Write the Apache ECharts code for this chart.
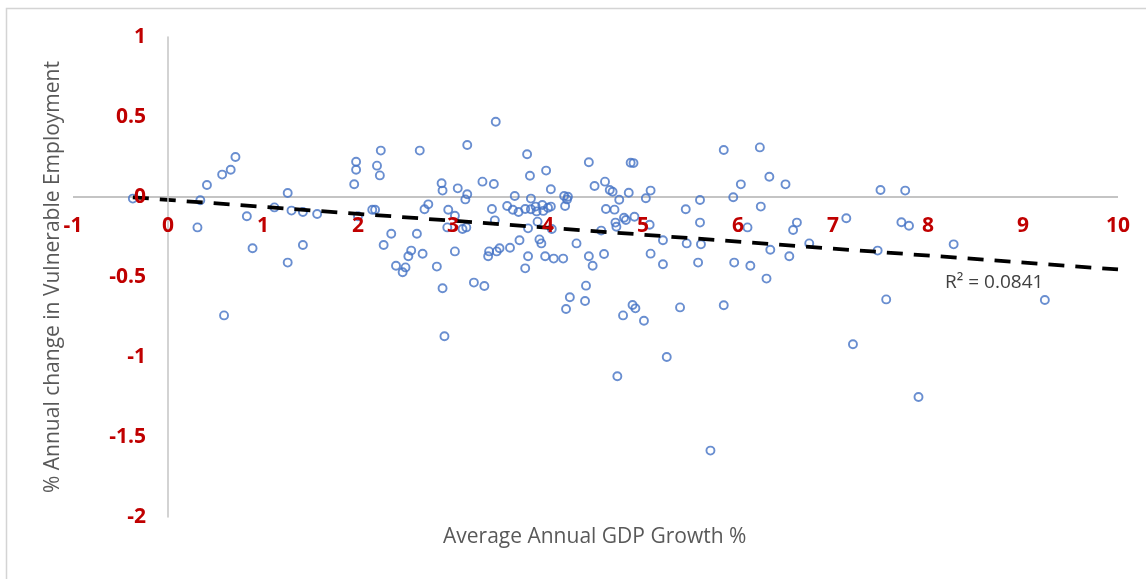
<!DOCTYPE html>
<html>
<head>
<meta charset="utf-8">
<script src="https://cdn.jsdelivr.net/npm/echarts@6/dist/echarts.min.js"></script>
<style>
  html, body { margin: 0; padding: 0; background: #fff; }
  #chart { width: 1146px; height: 579px; }
</style>
</head>
<body>
<div id="chart"></div>
<script>
// [gdp growth %, change in vulnerable employment %]
const points = [
  [-0.37, -0.01], [0.31, -0.19], [0.34, -0.02], [0.41, 0.075], [0.57, 0.14], [0.66, 0.17],
  [0.71, 0.25], [0.59, -0.74], [0.83, -0.12], [0.89, -0.32], [1.12, -0.065], [1.26, 0.025],
  [1.30, -0.085], [1.26, -0.41], [1.42, -0.094], [1.42, -0.30], [1.57, -0.106], [1.96, 0.08],
  [1.98, 0.22], [1.98, 0.17],
  [2.0, -0.12], [2.15, -0.08], [2.18, -0.08], [2.24, 0.29], [2.20, 0.196], [2.23, 0.135],
  [2.35, -0.23], [2.27, -0.30], [2.40, -0.43], [2.47, -0.47], [2.50, -0.44], [2.53, -0.37],
  [2.56, -0.335], [2.62, -0.23], [2.65, 0.29], [2.68, -0.355], [2.70, -0.077], [2.74, -0.046],
  [2.83, -0.435], [2.89, -0.57], [2.91, -0.87], [2.88, 0.086], [2.89, 0.04], [2.95, -0.08],
  [3.02, -0.117], [2.94, -0.19], [3.10, -0.2], [3.14, -0.19], [3.02, -0.34], [3.05, 0.054],
  [3.15, 0.325], [3.15, 0.017], [3.13, -0.015], [3.22, -0.535], [3.33, -0.556], [3.31, 0.096],
  [3.43, 0.081], [3.45, 0.47], [3.41, -0.075], [3.44, -0.146], [3.38, -0.34], [3.37, -0.37],
  [3.46, -0.34], [3.49, -0.32], [3.60, -0.317], [3.57, -0.056], [3.65, 0.006], [3.63, -0.08],
  [3.69, -0.094], [3.70, -0.27], [3.76, -0.075], [3.82, -0.077], [3.78, 0.267], [3.81, 0.133],
  [3.82, -0.01], [3.79, -0.196], [3.79, -0.37], [3.76, -0.446], [3.89, -0.154],
  [3.87, -0.06], [3.88, -0.09], [3.94, -0.05], [3.95, -0.087], [4.0, -0.067], [4.03, -0.06],
  [3.98, 0.165], [4.03, 0.048], [4.04, -0.2], [3.91, -0.265], [3.93, -0.29], [3.97, -0.37],
  [4.06, -0.385], [4.16, -0.385], [4.17, 0.006], [4.2, -0.015], [4.21, 0.002], [4.18, -0.056],
  [4.30, -0.29], [4.23, -0.627], [4.19, -0.70], [4.39, -0.65], [4.40, -0.554], [4.43, -0.37],
  [4.47, -0.43], [4.43, 0.217], [4.49, 0.069], [4.60, 0.096], [4.56, -0.21], [4.59, -0.356],
  [4.61, -0.075], [4.70, -0.079], [4.65, 0.044], [4.68, 0.033], [4.75, -0.017], [4.71, -0.16],
  [4.72, -0.186], [4.80, -0.13], [4.82, -0.144], [4.85, 0.027], [4.87, 0.214], [4.90, 0.212],
  [4.91, -0.123], [4.79, -0.74], [4.89, -0.675], [4.92, -0.696], [5.01, -0.773], [5.03, -0.008],
  [5.08, 0.04], [5.07, -0.173], [5.08, -0.354], [5.21, -0.27], [5.21, -0.42], [5.39, -0.69],
  [5.45, -0.077], [5.46, -0.29], [5.6, -0.019], [5.6, -0.16], [5.58, -0.41], [5.61, -0.296],
  [5.85, 0.294], [5.85, -0.677], [5.95, -0.002], [6.03, 0.079], [5.96, -0.41], [6.10, -0.19],
  [6.13, -0.43], [6.23, 0.31], [6.33, 0.127], [6.24, -0.06], [6.34, -0.33], [6.30, -0.51],
  [6.50, 0.079], [6.58, -0.206], [6.62, -0.16], [6.54, -0.37], [6.75, -0.29], [7.14, -0.133],
  [7.21, -0.92], [7.47, -0.335], [7.50, 0.044],
  [7.76, 0.04], [7.72, -0.158], [7.80, -0.18], [8.27, -0.296], [7.56, -0.64], [7.90, -1.25],
  [9.23, -0.644],
  [4.73, -1.12], [5.25, -1.0], [5.71, -1.585]
];

// linear trendline ends as drawn in the picture
const trend = [[-0.37, -0.002], [10, -0.453]];
const rSquared = "R² = 0.0841";

const xRange = [-1, 10];
const yRange = [-2, 1];

const xTitle = "Average Annual GDP Growth %";
const yTitle = "% Annual change in Vulnerable Employment";

const FONT = "'Open Sans', 'Noto Sans', sans-serif";
const LABEL_RED = "#C00000";
const AXIS_GREY = "#C4C4C4";

const chart = echarts.init(document.getElementById("chart"), null, { renderer: "canvas" });

// axes cross at the origin: x axis shifted up onto y = 0 (one y unit = 160px),
// y axis shifted right onto x = 0 (one x unit = 95px)
chart.setOption({
  backgroundColor: "#fff",
  animation: false,
  grid: { left: 73, right: 28, top: 37, bottom: 62 },
  xAxis: {
    type: "value",
    position: "bottom",
    min: xRange[0],
    max: xRange[1],
    interval: 1,
    offset: -320,
    z: 5,
    axisLine: { show: false },
    axisTick: { show: false },
    splitLine: { show: false },
    axisLabel: { color: LABEL_RED, fontWeight: "bold", fontSize: 21, fontFamily: FONT, margin: 19 },
  },
  yAxis: {
    type: "value",
    position: "left",
    min: yRange[0],
    max: yRange[1],
    interval: 0.5,
    offset: -95,
    z: 5,
    axisLine: { show: true, onZero: false, lineStyle: { color: AXIS_GREY, width: 1.5 } },
    axisTick: { show: false },
    splitLine: { show: false },
    axisLabel: { color: LABEL_RED, fontWeight: "bold", fontSize: 21, fontFamily: FONT, margin: 22 },
  },
  graphic: [
    {
      type: "rect",
      shape: { x: 6.5, y: 8.5, width: 1160, height: 600 },
      style: { fill: "none", stroke: "#D4D4D4", lineWidth: 1.5 },
      silent: true,
      z: -1,
    },
    {
      type: "text",
      left: 443,
      top: 527,
      style: { text: xTitle, fill: "#595959", fontSize: 21, fontFamily: FONT },
    },
    {
      type: "text",
      x: 43,
      y: 493,
      rotation: Math.PI / 2,
      style: { text: yTitle, fill: "#595959", fontSize: 21, fontFamily: FONT, textAlign: "left", textVerticalAlign: "top" },
    },
    {
      type: "text",
      left: 945,
      top: 273,
      style: { text: rSquared, fill: "#404040", fontSize: 19, fontFamily: FONT },
    },
  ],
  series: [
    {
      // horizontal axis line along y = 0
      type: "line",
      data: [[xRange[0], 0], [xRange[1], 0]],
      symbol: "none",
      silent: true,
      lineStyle: { color: AXIS_GREY, width: 2 },
      z: 1,
    },
    {
      type: "scatter",
      data: points,
      symbol: "circle",
      symbolSize: 8,
      itemStyle: { color: "rgba(0,0,0,0)", borderColor: "#4472C4", borderWidth: 1.9 },
    },
    {
      type: "line",
      data: trend,
      symbol: "none",
      lineStyle: { color: "#000", width: 3.75, type: [16, 11] },
      z: 3,
    },
  ],
});
</script>
</body>
</html>
